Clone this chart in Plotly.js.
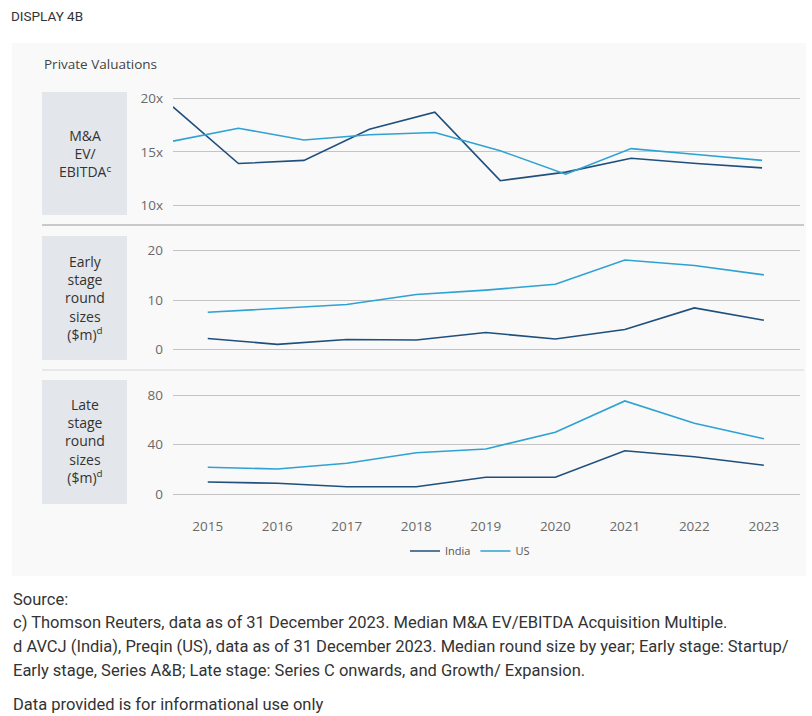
<!DOCTYPE html>
<html>
<head>
<meta charset="utf-8">
<script src="https://cdn.plot.ly/plotly-3.0.1.min.js"></script>
<style>
  html, body { margin: 0; padding: 0; background: #ffffff; }
  #chart { width: 812px; height: 716px; }
</style>
</head>
<body>
<div id="chart"></div>
<script>
// ---- Data ----
const mnaYears = [2014, 2015, 2016, 2017, 2018, 2019, 2020, 2021, 2022, 2023];
const mnaIndia = [19.2, 13.9, 14.2, 17.1, 18.7, 12.3, 13.1, 14.4, 13.9, 13.5];
const mnaUS    = [16.0, 17.2, 16.1, 16.6, 16.8, 15.1, 12.9, 15.3, 14.75, 14.2];

const years = [2015, 2016, 2017, 2018, 2019, 2020, 2021, 2022, 2023];
const earlyIndia = [2.2, 1.0, 2.0, 1.9, 3.4, 2.1, 4.0, 8.4, 5.9];
const earlyUS    = [7.5, 8.3, 9.1, 11.1, 12.0, 13.2, 18.1, 17.0, 15.1];
const lateIndia  = [9.9, 8.9, 6.1, 6.1, 13.7, 13.7, 35.1, 30.3, 23.4];
const lateUS     = [21.8, 20.4, 25.0, 33.5, 36.5, 50.0, 75.2, 57.2, 44.8];

const seriesNames = ['India', 'US'];
const mnaTicks = [10, 15, 20];
const mnaTickText = ['10x', '15x', '20x'];
const earlyTicks = [0, 10, 20];
const lateTicks = [0, 40, 80];

// ---- Styling ----
const W = 812, H = 716;
const px = v => v / W;
const py = v => 1 - v / H;
const cIndia = '#1f4f7c';
const cUS = '#2ea2d3';
const FONT = 'Open Sans, sans-serif';
const NOTE = 'Roboto, sans-serif';
const tickFont = { family: FONT, size: 13.5, color: '#6a6a6a' };

const traces = [
  { x: mnaYears, y: mnaIndia, xaxis: 'x3', yaxis: 'y', name: seriesNames[0], mode: 'lines',
    line: { color: cIndia, width: 1.6 }, showlegend: false, legendgroup: 'india' },
  { x: mnaYears, y: mnaUS, xaxis: 'x3', yaxis: 'y', name: seriesNames[1], mode: 'lines',
    line: { color: cUS, width: 1.6 }, showlegend: false, legendgroup: 'us' },
  { x: years, y: earlyIndia, xaxis: 'x2', yaxis: 'y2', name: seriesNames[0], mode: 'lines',
    line: { color: cIndia, width: 1.6 }, showlegend: false, legendgroup: 'india' },
  { x: years, y: earlyUS, xaxis: 'x2', yaxis: 'y2', name: seriesNames[1], mode: 'lines',
    line: { color: cUS, width: 1.6 }, showlegend: false, legendgroup: 'us' },
  { x: years, y: lateIndia, xaxis: 'x', yaxis: 'y3', name: seriesNames[0], mode: 'lines',
    line: { color: cIndia, width: 1.6 }, legendgroup: 'india' },
  { x: years, y: lateUS, xaxis: 'x', yaxis: 'y3', name: seriesNames[1], mode: 'lines',
    line: { color: cUS, width: 1.6 }, legendgroup: 'us' }
];

const xDomain = [px(173), px(800)];
const gridColor = '#c4c4c4';

const yBase = {
  showline: false, zeroline: false, gridcolor: gridColor, gridwidth: 1,
  tickfont: tickFont, ticks: '', ticklabelstandoff: 9, fixedrange: true
};

function note(text, y, size) {
  return { text: text, xref: 'paper', yref: 'paper', x: px(11), y: py(y), xanchor: 'left', yanchor: 'middle',
    showarrow: false, font: { family: NOTE, size: size || 16.5, color: '#333' } };
}

const layout = {
  width: W, height: H,
  margin: { l: 0, r: 0, t: 0, b: 0 },
  paper_bgcolor: '#ffffff',
  plot_bgcolor: 'rgba(0,0,0,0)',
  font: { family: FONT, color: '#333' },
  showlegend: true,
  legend: {
    orientation: 'h', x: px(470), xanchor: 'center', y: py(551), yanchor: 'middle',
    font: { family: FONT, size: 11, color: '#555' }, bgcolor: 'rgba(0,0,0,0)',
    itemwidth: 30, tracegroupgap: 0
  },
  xaxis: {
    domain: xDomain, anchor: 'y3', range: [2014.5, 2023.52],
    tickvals: years, ticktext: years.map(String), tickfont: tickFont,
    showgrid: false, zeroline: false, showline: false, ticks: '', ticklabelstandoff: 12,
    fixedrange: true
  },
  xaxis2: {
    domain: xDomain, anchor: 'y2', range: [2014.5, 2023.52],
    showticklabels: false, showgrid: false, zeroline: false, showline: false, fixedrange: true
  },
  xaxis3: {
    domain: xDomain, anchor: 'y', range: [2014, 2023.58],
    showticklabels: false, showgrid: false, zeroline: false, showline: false, fixedrange: true
  },
  yaxis: Object.assign({}, yBase, {
    domain: [py(215), py(92)], range: [9.09, 20.59], tickvals: mnaTicks, ticktext: mnaTickText
  }),
  yaxis2: Object.assign({}, yBase, {
    domain: [py(360), py(236)], range: [-2.17, 22.98], tickvals: earlyTicks
  }),
  yaxis3: Object.assign({}, yBase, {
    domain: [py(504), py(380)], range: [-7.8, 92.1], tickvals: lateTicks
  }),
  shapes: [
    { type: 'rect', xref: 'paper', yref: 'paper', x0: px(12), x1: px(806), y0: py(576), y1: py(43),
      fillcolor: '#f9f9f9', line: { width: 0 }, layer: 'below' },
    { type: 'rect', xref: 'paper', yref: 'paper', x0: px(42), x1: px(127), y0: py(215), y1: py(92),
      fillcolor: '#e3e6ea', line: { width: 0 }, layer: 'below' },
    { type: 'rect', xref: 'paper', yref: 'paper', x0: px(42), x1: px(127), y0: py(360), y1: py(236),
      fillcolor: '#e3e6ea', line: { width: 0 }, layer: 'below' },
    { type: 'rect', xref: 'paper', yref: 'paper', x0: px(42), x1: px(127), y0: py(504), y1: py(380),
      fillcolor: '#e3e6ea', line: { width: 0 }, layer: 'below' },
    { type: 'line', xref: 'paper', yref: 'paper', x0: px(42), x1: px(804), y0: py(225), y1: py(225),
      line: { color: '#b9b9b9', width: 1.3 }, layer: 'below' },
    { type: 'line', xref: 'paper', yref: 'paper', x0: px(42), x1: px(804), y0: py(370), y1: py(370),
      line: { color: '#e2e2e2', width: 1.3 }, layer: 'below' }
  ],
  annotations: [
    { text: 'DISPLAY 4B', xref: 'paper', yref: 'paper', x: px(9), y: py(16), xanchor: 'left', yanchor: 'middle',
      showarrow: false, font: { family: NOTE, size: 13.5, color: '#333' } },
    { text: 'Private Valuations', xref: 'paper', yref: 'paper', x: px(42), y: py(64), xanchor: 'left', yanchor: 'middle',
      showarrow: false, font: { family: FONT, size: 13.5, color: '#444' } },
    { text: 'M&A<br>EV/<br>EBITDA<sup>c</sup>', xref: 'paper', yref: 'paper', x: px(84.5), y: py(153), xanchor: 'center', yanchor: 'middle',
      showarrow: false, align: 'center', font: { family: FONT, size: 14, color: '#333' } },
    { text: 'Early<br>stage<br>round<br>sizes<br>($m)<sup>d</sup>', xref: 'paper', yref: 'paper', x: px(84.5), y: py(298), xanchor: 'center', yanchor: 'middle',
      showarrow: false, align: 'center', font: { family: FONT, size: 14, color: '#333' } },
    { text: 'Late<br>stage<br>round<br>sizes<br>($m)<sup>d</sup>', xref: 'paper', yref: 'paper', x: px(84.5), y: py(441), xanchor: 'center', yanchor: 'middle',
      showarrow: false, align: 'center', font: { family: FONT, size: 14, color: '#333' } },
    note('Source:', 599),
    note('c) Thomson Reuters, data as of 31 December 2023. Median M&A EV/EBITDA Acquisition Multiple.', 622),
    note('d AVCJ (India), Preqin (US), data as of 31 December 2023. Median round size by year; Early stage: Startup/', 646),
    note('Early stage, Series A&B; Late stage: Series C onwards, and Growth/ Expansion.', 670),
    note('Data provided is for informational use only', 704)
  ]
};

Plotly.newPlot('chart', traces, layout, { displayModeBar: false, staticPlot: true });
</script>
</body>
</html>
